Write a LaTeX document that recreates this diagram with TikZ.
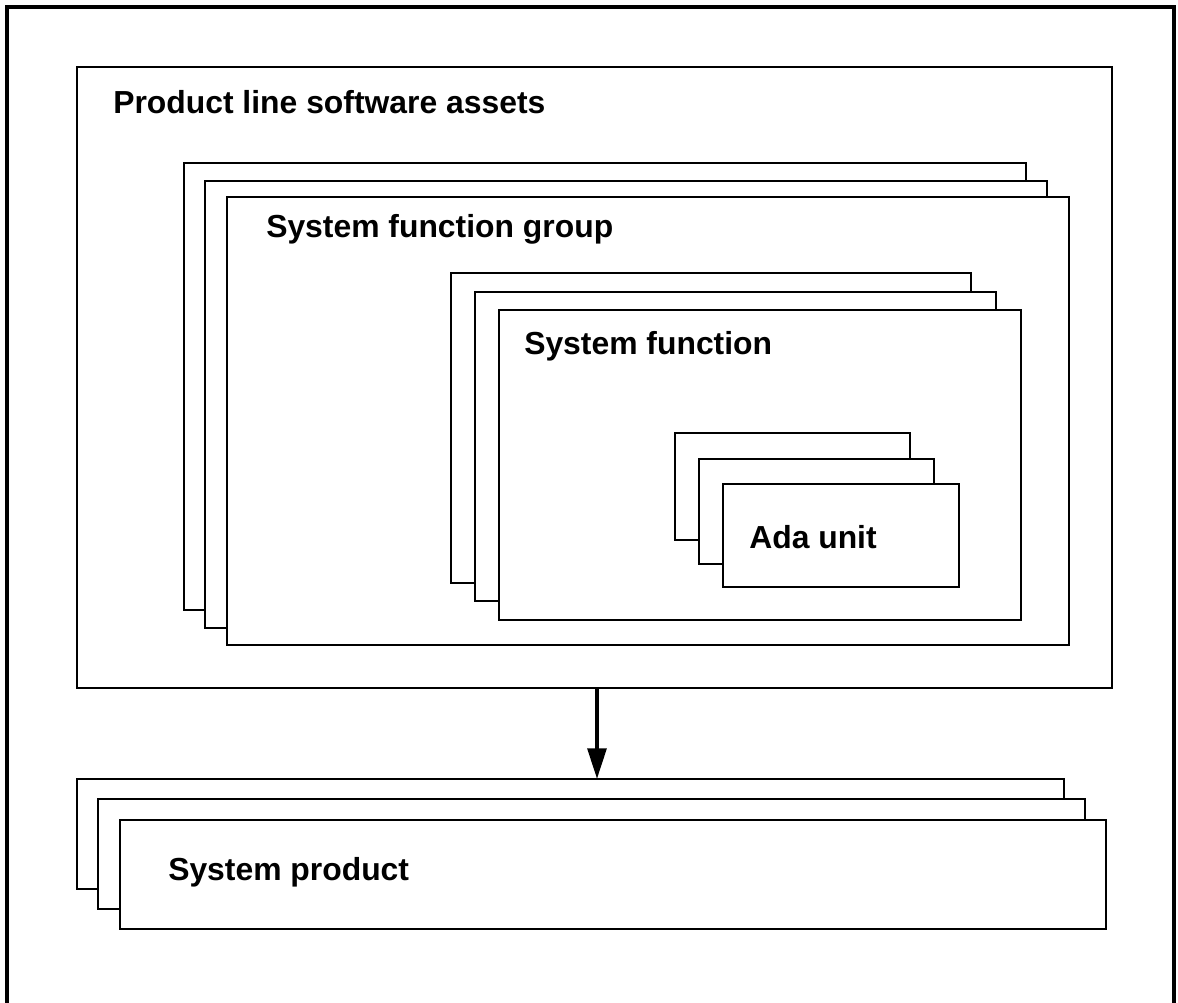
\documentclass[tikz,border=0pt]{standalone}
\usepackage{fontspec}
\setmainfont{Liberation Sans}
\usetikzlibrary{arrows.meta}
\begin{document}
\begin{tikzpicture}[x=0.75pt,y=-0.75pt,
  box/.style={draw=black,fill=white,line width=0.9pt,inner sep=0pt,outer sep=0pt,anchor=north west},
  lbl/.style={anchor=west,font=\fontsize{23.9}{28}\selectfont\bfseries,inner sep=0pt}]
\useasboundingbox (0,0) rectangle (1178,1003);
\draw[line width=3pt] (7,1003) -- (7,7) -- (1174,7) -- (1174,1003);
% product line
\node[box,minimum width=1035*0.75pt,minimum height=621*0.75pt] (plsa) at (77,67) {};
\node[lbl] (plsat) at (113,102) {Product line software assets};
% system function group stack
\node[box,minimum width=842*0.75pt,minimum height=447*0.75pt] (sfg1) at (184,163) {};
\node[box,minimum width=842*0.75pt,minimum height=447*0.75pt] (sfg2) at (205,181) {};
\node[box,minimum width=842*0.75pt,minimum height=448*0.75pt] (sfg3) at (227,197) {};
\node[lbl] (sfgt) at (266,229) {System function group};
% system function stack
\node[box,minimum width=520*0.75pt,minimum height=310*0.75pt] (sf1) at (451,273) {};
\node[box,minimum width=521*0.75pt,minimum height=309*0.75pt] (sf2) at (475,292) {};
\node[box,minimum width=522*0.75pt,minimum height=310*0.75pt] (sf3) at (499,310) {};
\node[lbl] (sft) at (524,346) {System function};
% ada unit stack
\node[box,minimum width=235*0.75pt,minimum height=107*0.75pt] (au1) at (675,433) {};
\node[box,minimum width=235*0.75pt,minimum height=105*0.75pt] (au2) at (699,459) {};
\node[box,minimum width=236*0.75pt,minimum height=103*0.75pt] (au3) at (723,484) {};
\node[lbl] (aut) at (749,537) {Ada unit};
% system product stack
\node[box,minimum width=987*0.75pt,minimum height=110*0.75pt] (sp1) at (77,779) {};
\node[box,minimum width=987*0.75pt,minimum height=110*0.75pt] (sp2) at (98,799) {};
\node[box,minimum width=986*0.75pt,minimum height=109*0.75pt] (sp3) at (120,820) {};
\node[lbl] (spt) at (168,872) {System product};
% arrow
\coordinate (as) at ([xshift=2.5*0.75pt]plsa.south);
\draw[line width=3pt,-{Triangle[length=23pt,width=14pt]}] (as) -- (as |- sp1.north);
\end{tikzpicture}
\end{document}
